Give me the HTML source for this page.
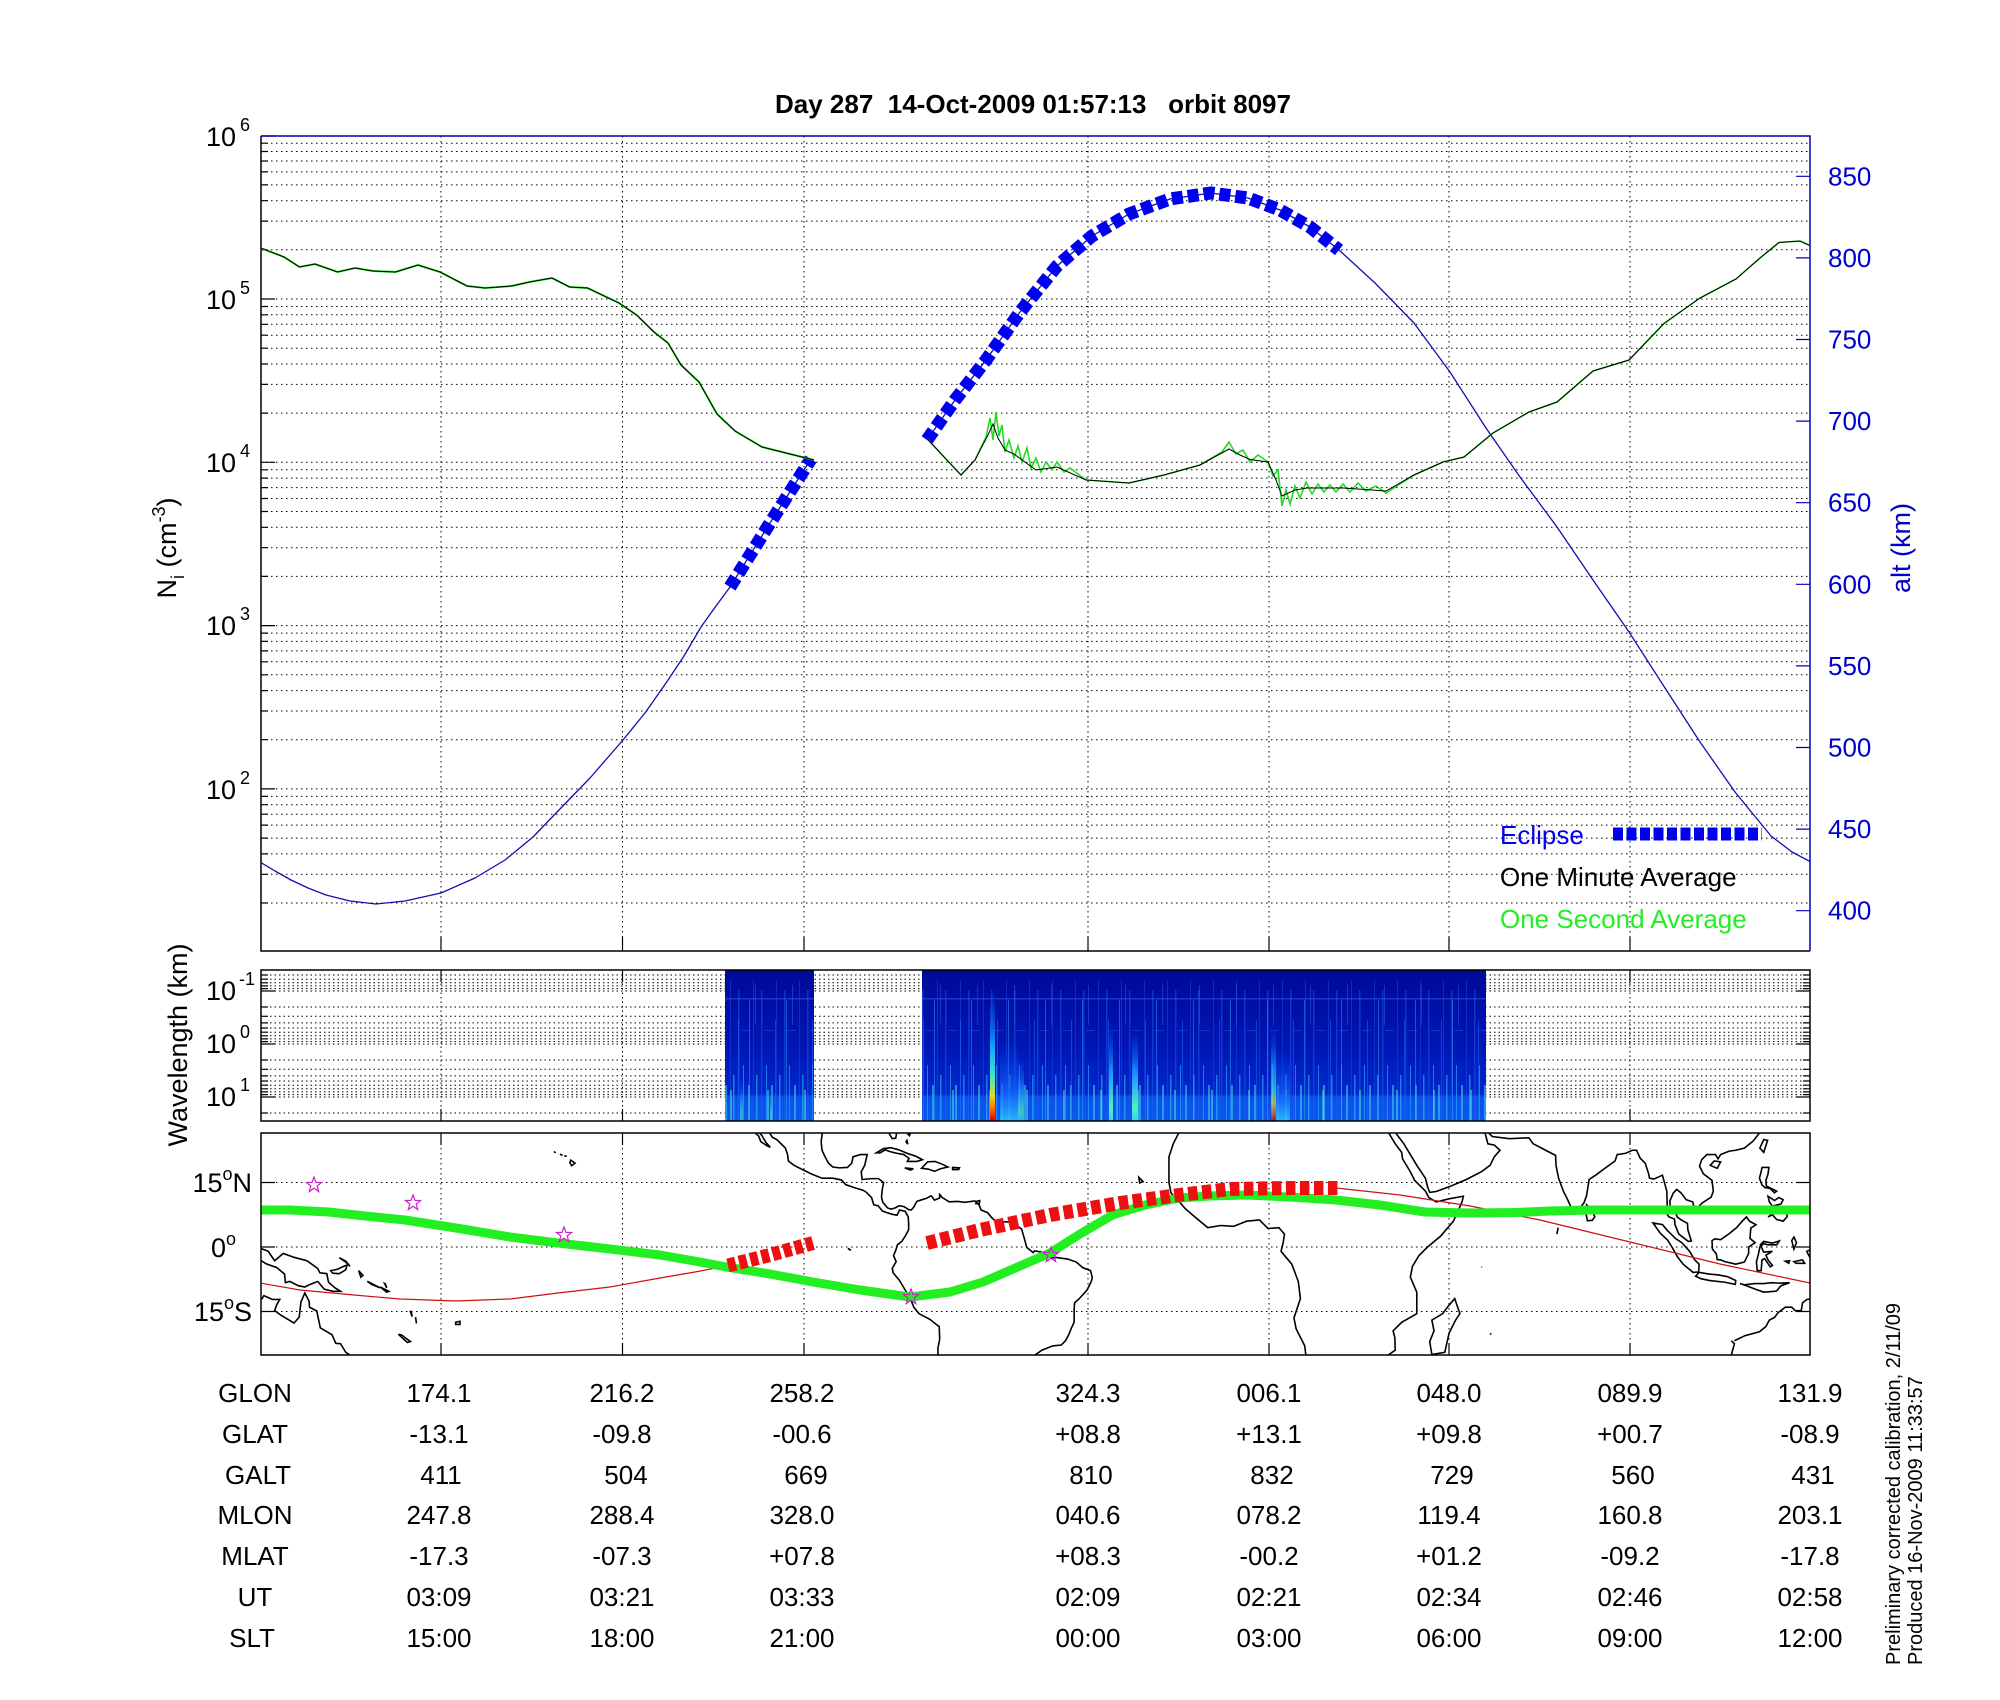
<!DOCTYPE html>
<html><head><meta charset="utf-8"><style>
html,body{margin:0;padding:0;background:#fff;}
svg{display:block;font-family:"Liberation Sans",Arial,sans-serif;}
</style></head><body>
<svg width="2000" height="1700" viewBox="0 0 2000 1700" xmlns="http://www.w3.org/2000/svg">
<defs>
<clipPath id="cTop"><rect x="261" y="136" width="1549" height="815"/></clipPath>
<clipPath id="cMap"><rect x="261" y="1133" width="1549" height="222"/></clipPath>
<linearGradient id="spbase" x1="0" y1="0" x2="0" y2="1">
<stop offset="0" stop-color="#000a96"/><stop offset="0.5" stop-color="#0016b4"/><stop offset="0.82" stop-color="#0028cc"/><stop offset="0.84" stop-color="#0a50e8"/><stop offset="1" stop-color="#0a58ec"/></linearGradient>
<linearGradient id="hot" x1="0" y1="0" x2="0" y2="1">
<stop offset="0" stop-color="#0030e0" stop-opacity="0.3"/><stop offset="0.4" stop-color="#10a0ff"/><stop offset="0.65" stop-color="#40e8d0"/><stop offset="0.8" stop-color="#e0e020"/><stop offset="0.9" stop-color="#ff7000"/><stop offset="1" stop-color="#d00000"/></linearGradient>
<linearGradient id="cy" x1="0" y1="0" x2="0" y2="1">
<stop offset="0" stop-color="#0040f0" stop-opacity="0.2"/><stop offset="0.5" stop-color="#20a0ff"/><stop offset="0.85" stop-color="#50f0c0"/><stop offset="1" stop-color="#30d0ff"/></linearGradient>
<linearGradient id="cy2" x1="0" y1="0" x2="0" y2="1">
<stop offset="0" stop-color="#0040f0" stop-opacity="0"/><stop offset="0.7" stop-color="#1870ff"/><stop offset="1" stop-color="#30c8ff"/></linearGradient>
<pattern id="sp" x="0" y="970" width="23" height="151" patternUnits="userSpaceOnUse">
<rect x="2" y="20" width="1.5" height="131" fill="#1e5af0" opacity="0.5"/>
<rect x="7" y="95" width="1" height="56" fill="#26a0ff" opacity="0.7"/>
<rect x="12" y="115" width="2" height="36" fill="#3cc8f0" opacity="0.6"/>
<rect x="17" y="10" width="1" height="141" fill="#2050e8" opacity="0.45"/>
<rect x="20" y="105" width="1.5" height="46" fill="#40d0ff" opacity="0.5"/>
<rect x="0" y="28" width="23" height="1.5" fill="#3050e8" opacity="0.6"/>
<rect x="5" y="60" width="9" height="1" fill="#3050e8" opacity="0.5"/>
</pattern>
<pattern id="sp2" x="5" y="970" width="37" height="151" patternUnits="userSpaceOnUse">
<rect x="4" y="30" width="1" height="121" fill="#30b0ff" opacity="0.45"/>
<rect x="22" y="120" width="2" height="31" fill="#60ffd0" opacity="0.45"/>
<rect x="30" y="50" width="1" height="101" fill="#1a70ff" opacity="0.5"/>
<rect x="10" y="15" width="1" height="40" fill="#2a60f0" opacity="0.5"/>
</pattern>
<g id="land" fill="none" stroke="#000" stroke-width="1.6" vector-effect="non-scaling-stroke">
<path vector-effect="non-scaling-stroke" d="M -14,28 L -16,24 -17,21 -17,15 -16.5,12.5 -15,11 -13.3,9 -11,7 -8,4.5 -5,5 -2,4.8 1,6 4,6.3 6,4.3 8.5,4.5 9.8,3 9.5,1 9,-1 11.5,-4 13,-8 13.5,-12 12,-16.5 12.5,-19 14.5,-23 15,-27 M 33,-27 L 32.6,-26 35.5,-24 35.4,-21 35,-19.5 37,-17.5 40.5,-15.5 40.5,-10.5 39,-7 39.5,-4.5 41,-2 43,0 46,2.5 49,6 51,10.5 51.3,11.8 48,11.2 45,10.5 43.3,11.5 42.5,13 40,15.5 39,17.5 37.2,20.5 37,22 35.5,24 34,26.5 33.5,28"/>
<path vector-effect="non-scaling-stroke" d="M 49.3,-12 L 50.5,-15.5 49.5,-17 48,-20 47,-24.5 44,-25 43.5,-22 44.5,-19.5 44,-17 46.5,-15.5 48,-13.5 Z"/>
<path vector-effect="non-scaling-stroke" d="M 34.5,28 L 36,26 37.5,24 39,21.5 40.5,19 42.5,16 43,14 43.5,12.7 45,12.9 48,14 52,15.7 55.5,17.5 57.5,19 58.5,21 59.8,22.5 58.5,23.7 57,24 56.4,26.3 56,27"/>
<path vector-effect="non-scaling-stroke" d="M 56.5,27.2 L 58,25.7 62,25.2 66.5,25.4 67.5,24 68.5,23.5 70,22.7 72.7,21.3 72.8,19 73.4,16 74.5,13 75.5,11 76.5,8.8 77.5,8 78.2,8.9 79.3,10.3 79.9,12 80.3,14.5 80.5,15.7 82,16.7 84,18.2 86.5,20 87,21.5 89,21.8 90.5,22.5 91.5,22.5 92.3,20.7 93.5,19.5 94.3,17 94.5,16 95.5,15.8 97.5,16.7 98.5,13 98.6,10 98.3,8 99,7 100.3,6.5 100.4,5.2 101.3,3 103.5,1.3 104.2,1.4 103.4,4 103.3,5.5 102,6.2 101,6.9 100.3,8.3 99.3,9.5 99.2,10.7 100,12.5 100.8,13.4 101.8,12.6 103,11 104.5,10.5 105,8.6 106.8,10.3 108.8,11.6 109.3,13 109,15.5 107,17 106.1,18.8 106.6,20.3 107.8,21.5 109.8,21.5 110.4,20.5 111,21.5 113,22.3 114.5,22.5 116.5,23 118.5,24.6 120,26.5 120.5,28"/>
<path vector-effect="non-scaling-stroke" d="M 79.9,9.8 L 81.2,8.5 81.8,7 81.2,6.2 80.1,6.1 79.8,7.5 Z M 95.3,5.6 L 97.5,5.2 98.5,4 100.5,2 102,1 103.8,-1 105,-3 106,-4 105.9,-5.8 104.6,-5.9 102.3,-4 101,-2.3 99.7,0 98.7,1.6 97,3.2 95.3,5.6 Z M 105.2,-6.8 L 106,-5.9 108.3,-6.3 110.5,-6.5 112.6,-6.9 114.5,-7.8 114.4,-8.7 112,-8.2 108.5,-7.8 106.5,-7.4 Z M 115.5,-8.5 L 116.5,-8.8 119,-8.5 121,-8.5 123,-8.3 124.5,-8.4 127,-8.3 125,-9 124,-10.2 123.5,-10.3 121,-10.5 119,-9.8 117,-9 Z M 109,1.5 L 109.7,1.9 111,1.7 113,3.1 114.7,4.5 116,6 117,7 117.7,6 119.2,5.2 118,4.4 117.8,2 119,1 117.5,0 117.5,-1.5 116.5,-3.5 114.5,-4 112,-3.4 111,-3 110.2,-2.9 110,-1.6 109.1,-0.5 Z M 119.5,-5.5 L 120.4,-5.5 120.6,-3 121.2,-2.7 122.5,-4.6 123,-4.3 122,-3 121.5,-1.9 123,-1 121,-1.2 120.2,0.5 121,1.3 123,0.9 124.6,1.4 124,0.5 122,0.5 121,0.8 120.1,0 119.8,-1.5 119.3,-3.5 Z M 120.6,18.5 L 122.2,18.5 122,17 121.5,15.5 121.6,14.2 124,13 123.5,12.6 122.5,13.6 121.3,13.8 120.6,14.4 120,16 120.4,17.5 Z M 122,7 L 123.5,8 125,9 126.5,9.3 126.4,7 125.5,6 124,6.4 123,7.5 Z M 122,11.8 L 123.5,10.8 124.5,11.5 125.5,11 125,10 123,9.5 122.3,10.5 Z M 120.1,23 L 121,25 121.9,24.8 121,22 Z M 108.6,19 L 109.5,20 111,19.8 110.2,18.3 Z M 127.5,1.5 L 128,2.3 128.6,1 128,-0.5 Z M 126,-3.3 L 127,-3.2 126.8,-3.8 Z M 128,-3.4 L 130,-3 130.5,-3.8 128.5,-3.8 Z"/>
<path vector-effect="non-scaling-stroke" d="M 131,-1 L 132.5,-0.4 134,-1 135.5,-3.2 137.5,-1.5 140,-2.4 143,-3.2 145.5,-5 146,-6 147.6,-6.2 148,-8.2 149.5,-9.5 150.8,-10.3 149,-10.3 147,-9.8 145.5,-8 143.5,-8.8 142.5,-9.3 141,-9 139,-8 138,-8.3 137.8,-6.3 136,-4.8 133.5,-3.9 132,-2.9 131.2,-1.5 Z M 148.5,-5.5 L 150,-5.2 151.5,-4.5 152.3,-4.2 152,-5.3 150.5,-6.2 149,-6.1 Z M 150.5,-2.5 L 152,-3.3 153,-4.5 152,-3.5 Z M 155,-5.5 L 156,-6.6 155.5,-7 Z M 157,-8 L 159,-9 160,-9.5 158,-8.7 Z M 160,-9.3 L 161.5,-10.5 162,-10.3 Z M 161,-8.5 L 161.5,-9.5 161.2,-8.6 Z M 167,-15 L 167.4,-16.2 167.2,-15 Z M 168.2,-16.3 L 168.4,-17.8 Z M 177.5,-17.5 L 178.5,-17.3 178.5,-18 177.5,-18 Z M 165,-20.5 L 167,-22 166.3,-22.2 164.2,-20.3 Z"/>
<path vector-effect="non-scaling-stroke" d="M 113.5,-21.8 L 114.2,-22.5 113.5,-25 114,-27 M 114.2,-21.8 L 116.7,-20.6 120,-19.7 121.5,-18.5 122.3,-17 123.5,-16.4 124.3,-15.3 126,-14 127.5,-14 128.3,-14.8 129.7,-14.8 130,-13 131,-12.2 132.6,-12 133,-11.3 135,-12.2 136.7,-12.2 136,-13.4 135.5,-14.8 137,-15.9 138.5,-16.8 140,-17.7 141.2,-16.3 141.6,-12.8 142.5,-10.7 143.5,-12.6 143.6,-14 145.3,-14.9 145.5,-16 146.1,-18.8 148.8,-20.4 149.7,-22.4 150.8,-22.5 152,-24.5 153.1,-25.2 153.3,-27"/>
<path vector-effect="non-scaling-stroke" d="M -113,27.5 L -111.5,26 -110.5,24.3 -109.5,23.2 -110.2,23.5 -111.7,24.5 -112.2,25.8 -113.5,27 M -112,29 L -110,27 -109,25.5 -108,25 -106,23 -105.5,21.5 -105.3,20 -104,19 -102,18 -100,17 -97.5,16 -95,16 -93,15.6 -92,14.5 -90,13.8 -88,13.2 -87.3,12.8 -86,11.5 -85.7,10.5 -85.5,9.8 -84.5,9.6 -83.5,8.4 -82.8,8.1 -81.2,7.6 -80.1,7.4 -79.5,8.6 -78.2,8.3 -77.5,7 -77.4,5.5 -77.4,4 -78.2,2.5 -79,1.3 -80,0.5 -80.4,-0.8 -80.9,-2 -80.3,-3.4 -81.2,-5 -81,-6 -79.5,-7.8 -78.5,-9.5 -77,-12 -76.2,-14 -75,-15.5 -72.5,-16.8 -71,-18 -70.3,-18.5 -70.2,-21.5 -70.6,-23.5 -70.6,-26"/>
<path vector-effect="non-scaling-stroke" d="M -48.5,-26 L -48.6,-25.5 -46.5,-24 -44,-23 -42,-22.8 -41,-21.8 -40.2,-20.3 -39.7,-19 -39,-17.5 -39,-14.5 -38.9,-13 -37.8,-12 -36,-10 -35,-8 -34.8,-7 -35.2,-5.5 -37,-4.8 -38.5,-3.5 -40.5,-2.8 -43.4,-2.4 -44.3,-2.6 -45.3,-1.4 -48.2,-0.9 -48.5,-1.3 -50,-0.1 -50.5,1.8 -51.2,4.2 -52.9,5.4 -54,5.8 -55.9,5.9 -57.2,6 -58.1,6.8 -59.1,8 -60.6,8.6 -61,9.7 -62,10.7 -64.4,10.4 -66,10.6 -68,10.5 -69.6,11.5 -70.2,12.2 -70.2,11.4 -71.4,10.9 -71.9,11.6 -72.2,11.9 -73.3,11.3 -74.3,11 -75.5,10.6 -76.2,9.3 -76.8,8.6 -77.4,8.7 -78.5,9.4 -79.6,9.6 -80.5,9.1 -81.5,8.8 -82.3,9.1 -83.4,10.4 -83.7,11.6 -83.5,13.5 -83.2,15 -84.4,15.9 -86,15.9 -88.2,15.7 -88.4,17.5 -87.6,19 -87,21.5 -88.6,21.5 -90.3,21 -90.6,19.5 -91.6,18.5 -93.5,18.4 -95,18.6 -96,19.5 -96.8,21 -97.5,22.5 -97.7,24.5 -97.3,27.5"/>
<path vector-effect="non-scaling-stroke" d="M -84.9,21.9 L -83.2,22.9 -81.5,23.1 -79.7,22.6 -77.5,21.7 -75.7,21.1 -74.2,20.3 -75.5,19.9 -77.7,19.9 -77.3,20.6 -78.5,21.5 -80.2,21.8 -81.8,22.2 -82.8,22.6 -84,21.9 Z M -74.4,18.3 L -73,19.8 -71.3,19.9 -69.5,19.2 -68.3,18.6 -70,18.2 -71.4,17.6 -72.8,18.1 Z M -78.3,18.4 L -76.3,18.2 -77,17.9 Z M -67.2,18.5 L -65.6,18.4 -65.8,18 -67.2,18 Z M -80.1,27 L -80.4,25.3 -81.2,25.2 -81.7,26 -82.2,27 M -77.8,26.5 L -77,26.5 -77.2,25.9 Z M -78,24.5 L -77.6,23.9 -77.8,24.8 Z M -61.5,10.7 L -60.9,10.8 -61,10.1 -61.8,10.1 Z M -24,16.2 L -23,15.2 -23.8,14.9 Z M -155.8,20.2 L -154.8,19.5 -155.6,18.9 -156,19.6 Z M -157.3,21.2 L -156.7,21.1 Z M -158.3,21.6 L -157.7,21.3 Z M -159.7,22.2 L -159.3,21.9 Z M -91.5,-0.3 L -90.8,-0.8 Z M 73,3 L 73.3,4.5 Z M 55.5,-4.6 L 55.6,-4.7 Z M 57.5,-20.1 L 57.8,-20.3 Z"/>
</g>
</defs>

<text x="1033" y="113" font-size="26" font-weight="bold" text-anchor="middle" xml:space="preserve">Day 287  14-Oct-2009 01:57:13   orbit 8097</text>

<!-- ============ TOP PANEL ============ -->
<g stroke="#000" stroke-width="1" stroke-dasharray="1.5 3.5" fill="none">
<path d="M261,143.2H1810M261,151.5H1810M261,161H1810M261,171.9H1810M261,184.9H1810M261,200.7H1810M261,221.1H1810M261,249.8H1810
M261,306.5H1810M261,314.8H1810M261,324.3H1810M261,335.2H1810M261,348.2H1810M261,364H1810M261,384.4H1810M261,413.1H1810
M261,469.8H1810M261,478.1H1810M261,487.6H1810M261,498.5H1810M261,511.5H1810M261,527.3H1810M261,547.7H1810M261,576.4H1810
M261,633.1H1810M261,641.4H1810M261,650.9H1810M261,661.8H1810M261,674.8H1810M261,690.6H1810M261,711H1810M261,739.7H1810
M261,796.4H1810M261,804.7H1810M261,814.2H1810M261,825.1H1810M261,838.1H1810M261,853.9H1810M261,874.3H1810M261,903H1810
M261,299H1810M261,462.3H1810M261,625.6H1810M261,788.9H1810"/>
<path d="M441,136V951M622.5,136V951M804,136V951M1088,136V951M1269,136V951M1449,136V951M1630,136V951"/>
</g>
<g stroke="#000" stroke-width="1.2">
<path d="M261,299H275M261,462.3H275M261,625.6H275M261,788.9H275M261,136H275"/>
<path d="M261,143.2h7M261,151.5h7M261,161h7M261,171.9h7M261,184.9h7M261,200.7h7M261,221.1h7M261,249.8h7M261,306.5h7M261,314.8h7M261,324.3h7M261,335.2h7M261,348.2h7M261,364h7M261,384.4h7M261,413.1h7M261,469.8h7M261,478.1h7M261,487.6h7M261,498.5h7M261,511.5h7M261,527.3h7M261,547.7h7M261,576.4h7M261,633.1h7M261,641.4h7M261,650.9h7M261,661.8h7M261,674.8h7M261,690.6h7M261,711h7M261,739.7h7M261,796.4h7M261,804.7h7M261,814.2h7M261,825.1h7M261,838.1h7M261,853.9h7M261,874.3h7M261,903h7"/>
<path d="M441,951V937M622.5,951V937M804,951V937M1088,951V937M1269,951V937M1449,951V937M1630,951V937"/>
<path d="M261,136V951H1810" fill="none" stroke-width="1.5"/>
</g>
<path d="M261,136H1810V951" fill="none" stroke="#0000b4" stroke-width="1.5"/>
<g stroke="#0000b4" stroke-width="1.2">
<path d="M1810,910.7h-14M1810,829.1h-14M1810,747.5h-14M1810,665.9h-14M1810,584.3h-14M1810,502.7h-14M1810,421.1h-14M1810,339.5h-14M1810,257.9h-14M1810,176.3h-14"/>
</g>
<g font-size="26" fill="#0000cc">
<text x="1828" y="919.7">400</text><text x="1828" y="838.1">450</text><text x="1828" y="756.5">500</text><text x="1828" y="674.9">550</text><text x="1828" y="593.3">600</text><text x="1828" y="511.7">650</text><text x="1828" y="430.1">700</text><text x="1828" y="348.5">750</text><text x="1828" y="266.9">800</text><text x="1828" y="185.3">850</text>
</g>
<g font-size="27" fill="#000" text-anchor="end">
<text x="236" y="146">10</text><text x="250" y="131" font-size="18">6</text>
<text x="236" y="309">10</text><text x="250" y="294" font-size="18">5</text>
<text x="236" y="472">10</text><text x="250" y="457" font-size="18">4</text>
<text x="236" y="635">10</text><text x="250" y="620" font-size="18">3</text>
<text x="236" y="799">10</text><text x="250" y="784" font-size="18">2</text>
</g>
<text transform="translate(176,548) rotate(-90)" font-size="27" text-anchor="middle">N<tspan font-size="18" dy="8">i</tspan><tspan dy="-8"> (cm</tspan><tspan font-size="18" dy="-11">-3</tspan><tspan dy="11">)</tspan></text>
<text transform="translate(1910,548) rotate(-90)" font-size="27" text-anchor="middle" fill="#0000cc">alt (km)</text>

<g clip-path="url(#cTop)" fill="none">
<polyline stroke="#1010b0" stroke-width="1.3" stroke-linejoin="round" points="260,862 275,871 291,880 308,888 326,895 350,901 376,904 405,901 441,893 475,878 505,860 533,837 559,810 590,778 623,740 645,713 666,683 684,656 701,627 716,606 730,587 770,523 811,459"/>
<polyline stroke="#1010b0" stroke-width="1.3" stroke-linejoin="round" points="927,440 955,400 986,360 1020,312 1057,266 1092,236 1129,214 1170,199 1211,193 1248,198 1280,210 1310,227 1339,250 1375,283 1414,323 1450,372 1486,428 1520,477 1557,527 1593,580 1629,632 1665,688 1700,742 1735,792 1771,836 1792,852 1811,862"/>
<polyline stroke="#0000f0" stroke-width="13" stroke-dasharray="11 5" points="730,587 770,523 811,459"/>
<polyline stroke="#0000f0" stroke-width="13" stroke-dasharray="11 5" points="927,440 955,400 986,360 1020,312 1057,266 1092,236 1129,214 1170,199 1211,193 1248,198 1280,210 1310,227 1339,250"/>
<polyline stroke="#22dd22" stroke-width="2" points="260.7,248 284,257 299.5,267 315,264 337.5,272 355,268 373,271 395.5,272 418,265 440,272 467,286 485,288 511.6,286 529.5,282 552,278 569.6,287 587.5,288 619,303 636.6,315 654,332 668,343 681,365 699,382 717,414 735,431 762,447 790,454 814,460"/>
<polyline stroke="#22dd22" stroke-width="1.6" points="927,438.6 945,458 961,475 975,460 986,437 990,418 993,440 996,412 999,436 1002,425 1005,452 1009,440 1014,458 1018,446 1022,462 1027,448 1031,468 1036,458 1041,472 1046,462 1052,470 1057,462 1064,472 1070,468 1086,480 1129,483 1164,475 1200,465 1222,452 1229,442 1236,454 1243,450 1250,462 1258,455 1268,462 1273,476 1278,470 1282,506 1286,490 1290,504 1295,486 1300,498 1306,482 1312,494 1318,484 1324,492 1330,485 1336,492 1343,484 1350,492 1358,483 1366,491 1376,486 1386,493 1414,475 1443,462 1464,457 1493,433 1529,412 1557,402 1593,371 1629,360 1664,323.5 1700,298 1736,279 1760,258 1779,242.5 1800,241 1811,246"/>
<polyline stroke="#000" stroke-width="1" points="260.7,248 284,257 299.5,267 315,264 337.5,272 355,268 373,271 395.5,272 418,265 440,272 467,286 485,288 511.6,286 529.5,282 552,278 569.6,287 587.5,288 619,303 636.6,315 654,332 668,343 681,365 699,382 717,414 735,431 762,447 790,454 814,460"/>
<polyline stroke="#000" stroke-width="1" points="927,438.6 945,458 961,475 975,460 988,435 993,424 998,438 1005,450 1014,454 1036,470 1057,467 1086,480 1129,483 1164,475 1200,465 1229,449 1240,455 1250,459.5 1268,462 1276,480 1282,496 1295,490 1307,488 1343,488 1386,491 1414,475 1443,462 1464,457 1493,433 1529,412 1557,402 1593,371 1629,360 1664,323.5 1700,298 1736,279 1760,258 1779,242.5 1800,241 1811,246"/>
</g>
<text x="1500" y="844" font-size="26" fill="#0000ee">Eclipse</text>
<line x1="1613" y1="834" x2="1762" y2="834" stroke="#0000f0" stroke-width="13" stroke-dasharray="10 3.5"/>
<text x="1500" y="886" font-size="26" fill="#000">One Minute Average</text>
<text x="1500" y="928" font-size="26" fill="#22ee22">One Second Average</text>

<!-- ============ SPECTROGRAM ============ -->
<g stroke="#000" stroke-width="1" stroke-dasharray="1.5 3" fill="none">
<path d="M261,975H1810M261,979.2H1810M261,982.8H1810M261,985.9H1810M261,988.6H1810M261,991H1810
M261,1007H1810M261,1016.3H1810M261,1022.9H1810M261,1028H1810M261,1032.2H1810M261,1035.8H1810M261,1038.9H1810M261,1041.6H1810M261,1044H1810
M261,1060H1810M261,1069.3H1810M261,1075.9H1810M261,1081H1810M261,1085.2H1810M261,1088.8H1810M261,1091.9H1810M261,1094.6H1810M261,1097H1810M261,1113H1810"/>
<path d="M441,970V1121M622.5,970V1121M804,970V1121M1088,970V1121M1269,970V1121M1449,970V1121M1630,970V1121"/>
</g>
<g stroke="#000" stroke-width="1.2">
<path d="M261,991h14M261,1044h14M261,1097h14M1810,991h-14M1810,1044h-14M1810,1097h-14"/>
<path d="M1810,975h-7M1810,979.2h-7M1810,982.8h-7M1810,985.9h-7M1810,988.6h-7M1810,1007h-7M1810,1016.3h-7M1810,1022.9h-7M1810,1028h-7M1810,1032.2h-7M1810,1035.8h-7M1810,1038.9h-7M1810,1041.6h-7M1810,1060h-7M1810,1069.3h-7M1810,1075.9h-7M1810,1081h-7M1810,1085.2h-7M1810,1088.8h-7M1810,1091.9h-7M1810,1094.6h-7M1810,1113h-7M261,975h7M261,979.2h7M261,982.8h7M261,985.9h7M261,988.6h7M261,1007h7M261,1016.3h7M261,1022.9h7M261,1028h7M261,1032.2h7M261,1035.8h7M261,1038.9h7M261,1041.6h7M261,1060h7M261,1069.3h7M261,1075.9h7M261,1081h7M261,1085.2h7M261,1088.8h7M261,1091.9h7M261,1094.6h7M261,1113h7"/>
<path d="M441,970v12M622.5,970v12M804,970v12M1088,970v12M1269,970v12M1449,970v12M1630,970v12M441,1121v-12M622.5,1121v-12M804,1121v-12M1088,1121v-12M1269,1121v-12M1449,1121v-12M1630,1121v-12"/>
</g>
<rect x="725" y="970" width="89" height="151" fill="url(#spbase)"/>
<rect x="725" y="970" width="89" height="151" fill="url(#sp)"/>
<rect x="725" y="970" width="89" height="151" fill="url(#sp2)"/>
<rect x="922" y="970" width="564" height="151" fill="url(#spbase)"/>
<rect x="922" y="970" width="564" height="151" fill="url(#sp)"/>
<rect x="922" y="970" width="564" height="151" fill="url(#sp2)"/>
<rect x="990" y="995" width="5" height="126" fill="url(#hot)"/>
<rect x="1000" y="1040" width="18" height="81" fill="url(#cy2)" opacity="0.8"/>
<rect x="1018" y="1060" width="6" height="61" fill="url(#cy)" opacity="0.7"/>
<rect x="1109" y="1030" width="4" height="91" fill="url(#cy)"/>
<rect x="1132" y="1035" width="6" height="86" fill="url(#cy)"/>
<rect x="1271" y="1030" width="5" height="91" fill="url(#hot)" opacity="0.7"/>
<rect x="1276" y="1050" width="14" height="71" fill="url(#cy2)" opacity="0.8"/>
<rect x="740" y="1080" width="3" height="41" fill="url(#cy)" opacity="0.6"/>
<rect x="770" y="1085" width="2" height="36" fill="url(#cy)" opacity="0.6"/>
<path d="M261,970H1810V1121H261Z" fill="none" stroke="#000" stroke-width="1.5"/>
<g font-size="27" text-anchor="end">
<text x="236" y="1000">10</text><text x="255" y="985" font-size="18">-1</text>
<text x="236" y="1053">10</text><text x="250" y="1038" font-size="18">0</text>
<text x="236" y="1106">10</text><text x="250" y="1091" font-size="18">1</text>
</g>
<text transform="translate(187,1045) rotate(-90)" font-size="27" text-anchor="middle">Wavelength (km)</text>

<!-- ============ MAP ============ -->
<g stroke="#000" stroke-width="1" stroke-dasharray="1.5 3.5" fill="none">
<path d="M261,1182.5H1810M261,1247H1810M261,1311.5H1810"/>
<path d="M441,1133V1355M622.5,1133V1355M804,1133V1355M1088,1133V1355M1269,1133V1355M1449,1133V1355M1630,1133V1355"/>
</g>
<g clip-path="url(#cMap)">
<g transform="translate(-309.37,1247) scale(4.31,-4.3)"><use href="#land"/></g>
<g transform="translate(1242.23,1247) scale(4.31,-4.3)"><use href="#land"/></g>
<polyline fill="none" stroke="#d01010" stroke-width="1.2" points="260,1283 300,1290 354,1295 400,1299 456,1301 510,1299 558,1293 610,1287 660,1278 695,1272 726.5,1266"/>
<polyline fill="none" stroke="#d01010" stroke-width="1.2" points="1336,1188 1400,1195 1470,1206 1540,1220 1630,1242 1720,1264 1810,1283"/>
<polyline fill="none" stroke="#22ee22" stroke-width="9" stroke-linejoin="round" points="260,1210 290,1210 328.6,1212 365,1216 405,1220 456,1228 510,1237 558,1243 610,1249 660,1255 700,1262 726.5,1267 770,1274 813,1282 860,1290 910,1297 950,1292 983,1282 1020,1266 1050,1253 1080,1234 1112.5,1215 1145,1205 1179,1198 1210,1196 1246,1195 1290,1197 1336,1200 1380,1205 1425,1212 1470,1213 1515,1212.5 1550,1211 1591,1210 1650,1210 1700,1210 1810,1210"/>
<polyline fill="none" stroke="#ee1010" stroke-width="14" stroke-dasharray="8 3.5" points="728,1265.5 770,1255 813,1243"/>
<polyline fill="none" stroke="#ee1010" stroke-width="14" stroke-dasharray="9.5 4.5" points="927,1243 980,1230 1050,1215 1120,1203 1179,1195 1230,1189 1290,1188 1338,1188"/>
<g fill="none" stroke="#cc22cc" stroke-width="1.2">
<path d="M0,-8 L2,-2.6 7.6,-2.5 3.2,1 4.7,6.5 0,3.2 -4.7,6.5 -3.2,1 -7.6,-2.5 -2,-2.6 Z" transform="translate(314,1185)"/>
<path d="M0,-8 L2,-2.6 7.6,-2.5 3.2,1 4.7,6.5 0,3.2 -4.7,6.5 -3.2,1 -7.6,-2.5 -2,-2.6 Z" transform="translate(413,1203)"/>
<path d="M0,-8 L2,-2.6 7.6,-2.5 3.2,1 4.7,6.5 0,3.2 -4.7,6.5 -3.2,1 -7.6,-2.5 -2,-2.6 Z" transform="translate(564,1235)"/>
<path d="M0,-8 L2,-2.6 7.6,-2.5 3.2,1 4.7,6.5 0,3.2 -4.7,6.5 -3.2,1 -7.6,-2.5 -2,-2.6 Z" transform="translate(911,1297)"/>
<path d="M0,-8 L2,-2.6 7.6,-2.5 3.2,1 4.7,6.5 0,3.2 -4.7,6.5 -3.2,1 -7.6,-2.5 -2,-2.6 Z" transform="translate(1051,1255)"/>
</g>
</g>
<g stroke="#000" stroke-width="1.2">
<path d="M261,1182.5h14M261,1247h14M261,1311.5h14M1810,1182.5h-14M1810,1247h-14M1810,1311.5h-14"/>
<path d="M441,1133v12M622.5,1133v12M804,1133v12M1088,1133v12M1269,1133v12M1449,1133v12M1630,1133v12M441,1355v-12M622.5,1355v-12M804,1355v-12M1088,1355v-12M1269,1355v-12M1449,1355v-12M1630,1355v-12"/>
</g>
<path d="M261,1133H1810V1355H261Z" fill="none" stroke="#000" stroke-width="1.5"/>
<g font-size="27" text-anchor="end">
<text x="252" y="1192">15<tspan font-size="18" dy="-12">o</tspan><tspan dy="12">N</tspan></text>
<text x="236" y="1257">0<tspan font-size="18" dy="-12">o</tspan><tspan dy="12"> </tspan></text>
<text x="252" y="1321">15<tspan font-size="18" dy="-12">o</tspan><tspan dy="12">S</tspan></text>
</g>

<!-- ============ TABLE ============ -->
<g font-size="26" text-anchor="middle">
<text x="255" y="1402">GLON</text><text x="255" y="1443">GLAT</text><text x="258" y="1484">GALT</text><text x="255" y="1524">MLON</text><text x="255" y="1565">MLAT</text><text x="255" y="1606">UT</text><text x="252" y="1647">SLT</text>
<text x="439" y="1402">174.1</text><text x="439" y="1443">-13.1</text><text x="441" y="1484">411</text><text x="439" y="1524">247.8</text><text x="439" y="1565">-17.3</text><text x="439" y="1606">03:09</text><text x="439" y="1647">15:00</text>
<text x="622" y="1402">216.2</text><text x="622" y="1443">-09.8</text><text x="626" y="1484">504</text><text x="622" y="1524">288.4</text><text x="622" y="1565">-07.3</text><text x="622" y="1606">03:21</text><text x="622" y="1647">18:00</text>
<text x="802" y="1402">258.2</text><text x="802" y="1443">-00.6</text><text x="806" y="1484">669</text><text x="802" y="1524">328.0</text><text x="802" y="1565">+07.8</text><text x="802" y="1606">03:33</text><text x="802" y="1647">21:00</text>
<text x="1088" y="1402">324.3</text><text x="1088" y="1443">+08.8</text><text x="1091" y="1484">810</text><text x="1088" y="1524">040.6</text><text x="1088" y="1565">+08.3</text><text x="1088" y="1606">02:09</text><text x="1088" y="1647">00:00</text>
<text x="1269" y="1402">006.1</text><text x="1269" y="1443">+13.1</text><text x="1272" y="1484">832</text><text x="1269" y="1524">078.2</text><text x="1269" y="1565">-00.2</text><text x="1269" y="1606">02:21</text><text x="1269" y="1647">03:00</text>
<text x="1449" y="1402">048.0</text><text x="1449" y="1443">+09.8</text><text x="1452" y="1484">729</text><text x="1449" y="1524">119.4</text><text x="1449" y="1565">+01.2</text><text x="1449" y="1606">02:34</text><text x="1449" y="1647">06:00</text>
<text x="1630" y="1402">089.9</text><text x="1630" y="1443">+00.7</text><text x="1633" y="1484">560</text><text x="1630" y="1524">160.8</text><text x="1630" y="1565">-09.2</text><text x="1630" y="1606">02:46</text><text x="1630" y="1647">09:00</text>
<text x="1810" y="1402">131.9</text><text x="1810" y="1443">-08.9</text><text x="1813" y="1484">431</text><text x="1810" y="1524">203.1</text><text x="1810" y="1565">-17.8</text><text x="1810" y="1606">02:58</text><text x="1810" y="1647">12:00</text>
</g>
<text transform="translate(1900,1665) rotate(-90)" font-size="20">Preliminary corrected calibration, 2/11/09</text>
<text transform="translate(1922,1665) rotate(-90)" font-size="20">Produced 16-Nov-2009 11:33:57</text>
</svg>
</body></html>
